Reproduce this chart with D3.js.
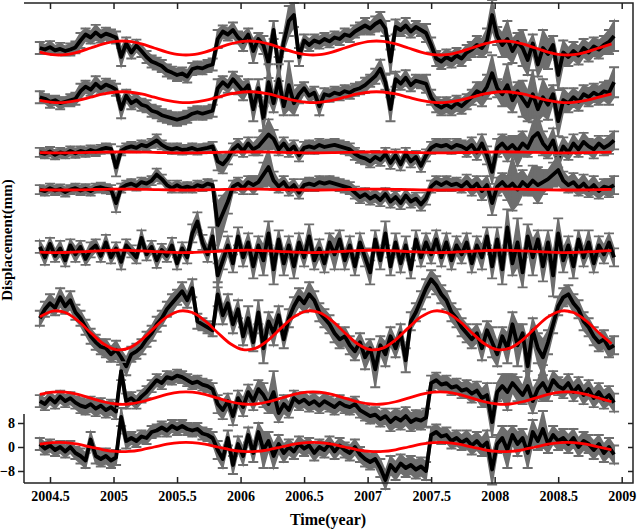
<!DOCTYPE html>
<html><head><meta charset="utf-8">
<script src="https://cdn.jsdelivr.net/npm/d3@7"></script>
<style>body{margin:0;background:#fff}svg{display:block}</style>
</head><body><svg id="c" width="638" height="531"></svg>
<script>
// ---------- DATA ----------
const xTicks = [2004.5, 2005, 2005.5, 2006, 2006.5, 2007, 2007.5, 2008, 2008.5, 2009];
const yTicks = [-8, 0, 8];
const tStart = 2004.42, tStep = 0.04;           // sampling grid of the observations
const redStart = 2004.42, redStep = 0.1;        // sampling grid of the fitted curves
// vertical offset (mm) of each station's series
const offsets = [133, 116.6, 98.2, 85.8, 65.2, 38.9, 16.3, 0];

const s1 = [0,-0.5,0.3,-0.8,-0.3,-1,-0.5,0.2,2.5,4.5, 3.5,5.2,3.8,4.8,4.2,3.5,-3,1.5,-1.5,0.8, -1,-3,-4.5,-5.2,-6,-7.5,-8.2,-9,-8.5,-9.5, -7,-6.5,-6.8,-6,-5.5,3,5.5,4.5,6,3.5, 2,4.5,-1,3,1,-5,6,-7,2,9, 11,-3,2.5,1,2.5,1.8,3,2.2,3.5,3, 4.5,4,5.5,6.5,7.5,6.5,8,9,6.5,-4.5, 7,6,7.5,5.5,7,6,5,1,-3.5,-4.5, -3,-4,-2.5,-3.5,-1.5,-0.5,1,0,2.5,11, 4,1,3,-1,2,0,-4,1.5,-5.5,0, -2,1,-9,-1.5,-3,-1,-2.5,0,-1.5,0.5, -0.5,1,2,4];
const e1 = [2,1.5,2,1.5,2,1.5,2,2,2.5,2, 2,2.5,2,2,2,2,3,2,2,2, 2,2,2,2,2,2,2,2,2,2, 2,2,2,2,2,3,2,2,2.5,2, 3,2,4,2,3,5,3,4,3,5, 4,3,2,2,2,2,2,2,2,2, 2,2,2,2,2.5,2,2.5,3,2.5,4, 2.5,2,2.5,2,2,2,3,2.5,2.5,2.5, 2.5,2.5,2.5,2.5,2.5,2.5,3,3,4,5, 3,4,6,4,3,6,5,3,4,6, 5,3,5,4,3,3,3,3,3,3, 3,3,4,5];

const s2 = [0,-0.5,-1.5,-1,-2,-1.5,-1,-0.5,2,3.5, 2.5,4.5,3,4.2,3.5,2.5,-4,0.5,-2,-1, -2.5,-3,-4.5,-5,-6,-6.5,-7,-7.5,-7,-6.5, -5.5,-5,-5.5,-5,-4.5,3,5,3.5,6,4, 2,4,-4,3,-7,5,-2,6,-3,4, -2,1,3,0.5,1.5,-3,1,0.5,1.5,1, 2,1.5,2.5,3,4,5.5,7,9.5,5,-4, 6,4.5,6.5,4,5.5,5,4.5,0,-2.5,-3.5, -2.5,-3.5,-2,-3,-1.5,0,2,1,3.5,8, 3,1,4,-1,2,-0.5,-3,1,-4,0, -2.5,1,-8,-1,-2,0,-1.5,1,0,1.5, 0.5,2,1.5,5];
const e2 = [2,1.5,2,1.5,2,1.5,2,2,2.5,2, 2,2.5,2,2,2,2,3,2,2,2, 2,2,2,2,2,2,2,2,2,2, 2,2,2,2,2,3,2,2,2.5,3, 3,2,4,3,4,6,3,5,3,8, 4,3,2,2,2,3,2,2,2,2, 2,2,2,2,2.5,2,2.5,3,2.5,4, 2.5,2,2.5,2,2,2,3,2.5,2.5,2.5, 2.5,2.5,2.5,2.5,2.5,2.5,3,4,4,6, 3,4,7,4,3,6,5,8,4,6, 5,3,5,4,3,3,3,3,3,3, 3,3,4,5];

const s3 = [0,-0.5,0.3,-0.8,0,-0.5,0.5,-0.3,0.5,0, 0.8,0.3,1,1.5,1.2,-5,0.5,1.5,2,1.5, 2.5,2,3,4,2.5,1.5,1,1.5,0.8,1, 1.5,0.8,1.2,1.5,2,-3,-4,-2,1,2.5, 0.5,3,1,2,4,6,4.5,1,3,0.5, 2,-1,1.5,2,1.5,2.5,1.8,2.2,2.5,2, 1.5,1,-0.5,-1.5,-2,-3,-1.5,-2.5,-0.5,-3.5, -1,-4,-0.5,-3,-1.5,-4.5,-1,1.5,2.5,2, 2.5,1.5,2.5,2,1,2.5,0,3,-1,-6.5, 1.5,3,1,2.5,0.5,3,1.5,5,6.5,3, 1,4,-2,2,0,3,1,3.5,2,1, 3,1.5,2.5,4];
const e3 = [1.5,1.5,1.5,1.5,1.5,1.5,1.5,1.5,1.5,1.5, 1.5,1.5,1.5,1.5,1.5,3,1.5,1.5,1.5,1.5, 1.5,1.5,1.5,2,1.5,1.5,1.5,1.5,1.5,1.5, 1.5,1.5,1.5,1.5,1.5,3,3,2,2,2, 2,2,2,3,3,5,3,2,2,2, 2,2,2,2,2,2,2,2,2,2, 2,2,2,2,2,2,2,2,2,2, 2,2,2,2,2,2,2,2,2,2, 2,2,2,2,2.5,2.5,2.5,3,3,4, 3,3,4,3,5,4,3,5,6,4, 3,4,3,3,2.5,3,2.5,3,2.5,3, 2.5,2.5,3,3];

const s4 = [0,-0.5,0.5,-0.3,0.2,-0.8,0,0.5,-0.3,0.3, -0.5,0.5,0.8,0.3,0,-4.5,0.5,1.5,2,1.2, 2.5,2,3,5,3.5,1.5,0.5,1.5,0.5,1, 0.5,1.5,1,2,1.5,-12,-8,-4,1,2, 0.5,2.5,1.5,2.5,5,7.5,3,1,2.5,0, 1.5,-1,1.5,2,1.5,2.5,2,2.5,2,1.5, 1,0.5,-1,-2.5,-1.5,-3,-2,-3.5,-1.5,-4, -2.5,-4.5,-2,-4,-3,-5,-3,1,2.5,1.5, 2.5,1.5,2,1,2.5,0.5,2,-0.5,1.5,-4.5, 1,2.5,0.5,2,0,2.5,1,3,1.5,2.5, 3.5,5,6.5,3,1.5,2.5,0.5,2,0,1.5, -0.5,1,0.5,1.5];
const e4 = [1.5,1.5,1.5,1.5,1.5,1.5,1.5,1.5,1.5,1.5, 1.5,1.5,1.5,1.5,1.5,3,1.5,1.5,1.5,1.5, 1.5,1.5,1.5,2,1.5,1.5,1.5,1.5,1.5,1.5, 1.5,1.5,1.5,1.5,1.5,8,6,4,2,2, 2,2,3,2,4,6,3,2,2,2, 2,2,2,2,2,2,2,2,2,2, 2,2,2,2,2,2,2,2,2,2, 2,2,2,2,2,2,2,2,2,2, 2,2,2,2,2.5,2.5,2.5,3,3,4, 3,3,4,9,5,4,3,5,6,4, 3,4,5,3,2.5,3,2.5,3,2.5,3, 2.5,2.5,3,3];

const s5 = [1.5,-2,2.5,-1.5,1,-3,2,-1,1.5,-2.5, 0.5,2,-1.5,3,-2,1,-3.5,2,0,-2, 4.5,-1,1.5,-3,0.5,-1.5,2,-4,1,-2, 6,10,3,-1,5,-8,-3,2,-4,5, -2,3,-5,2,-3,6,-6,4,-4,2, -5,3,-2,5,-3,1,-4,3,-1,4, -3,2,-5,3,-2,-7,4,-3,6,-5, 3,-4,2,-6,4,-2,3,-1,4,-2, 3,-3,2,-1,3,-4,2,-2,5,-5, 4,-6,8,-4,3,-7,5,-2,4,-5, 3,-8,6,-3,2,-5,4,-2,3,-4, 2,-1,3,-2];
const e5 = [2,2.5,2,2,2.5,2,2,2.5,2,2, 2.5,2,2,2.5,2,2,2.5,2,2,2, 2.5,2,2,2.5,2,2,2.5,2,2,2, 3,3,2.5,2.5,3,4,3,3,3,3, 3,3,4,3,5,4,5,3,4,3, 4,3,3,4,3,3,3,3,5,3, 3,3,3,3,3,4,3,3,4,3, 3,3,3,3,3,3,3,3,3,3, 3,3,3,3,3,3,3,4,3,4, 4,5,6,4,8,5,4,6,3,5, 4,7,5,4,3,4,3,3,4,3, 3,3,3,3];

const s6 = [4,7,9,7.5,11,8,10,6,4,1, -2,-4,-5.5,-6,-8,-6.5,-9,-12,-8,-7, -5.5,-3,-1,2,4,7,9,11,13,10, 14,3,2,1,0,12,5,9,2,7, -2,4,-4,6,-6,3,-1,5,-3,4, 8,11,9,12,10,6,4,2,-1,-3, -2,-5,-7,-4,-9,-6,-13,-5,-8,-2, -6,-1,-10,3,6,10,14,17,15,12, 10,6,4,1,-1,-3,-1,-6,0,-4, -8,-2,-6,2,-5,-1,-12,0,-6,-9, -4,2,8,11,12,9,7,3,1,-2, -4,-3,-6,-5];
const e6 = [2.5,2.5,3,2.5,3,2.5,3,2.5,2.5,2.5, 2.5,2.5,2.5,3,2.5,3,2.5,3,2.5,2.5, 2.5,2.5,2.5,2.5,2.5,2.5,3,2.5,3,2.5, 3,2.5,2,2,2,4,3,3,3,3, 3,4,3,4,5,3,4,3,3,3, 3,3,3,4,3,3,3,3,3,3, 3,3,3,3,4,3,6,3,4,3, 3,3,4,3,3,3,3,3,3,3, 3,3,3,3,3,3,3,4,3,5, 4,3,5,4,7,3,8,4,5,6, 4,3,3,3,3,3,3,3,3,3, 3,3,3,3];

const s7 = [-1,-2,0,-1.5,0.5,-1,0,-1.5,-2.5,-3, -2,-3.5,-2.5,-4,-3,-4.5,9,-1,0,-1.5, 0.5,2,4,6,5,7,6.5,7.5,7,6, 5,5.5,4.5,4,3,-2,-4,-1,-6,0, -3,2,-1,3,1,-2,2,-5,-2,-4, 0,-1.5,-0.5,-2,-1,-2.5,-1,-2,-3,-1.5, -2.5,-3,-2,-4,-5,-6,-5.5,-7,-6,-8, -6.5,-7.5,-6,-8,-7,-7.5,-6.5,5,6,4.5, 5,3.5,4,2.5,3,1.5,2.5,0,1,-8, 2,4,2,5,3,1,4,-1,3,5, 2,6,4,3,5,2,4,1,3,0, 2,-0.5,1,-1.5];
const e7 = [2,2,2,2,2,2,2,2,2.5,2.5, 2.5,2.5,2.5,2.5,2.5,2.5,3,2.5,2,2, 2,2,2,2,2,2,2,2,2,2, 2,2,2,2,2,3,3,2.5,3,2.5, 3,2.5,3,3,4,3,7,3,3,2.5, 2.5,2.5,2.5,2.5,2.5,2.5,2.5,2.5,2.5,2.5, 2.5,2.5,2.5,2.5,2.5,2.5,2.5,2.5,2.5,3, 3,3,3,3,3,3,3,2.5,2.5,2.5, 2.5,2.5,2.5,2.5,3,3,3,3,4,5, 3,4,6,3,4,3,5,4,3,6, 3,3,3,3,3,3,3,3,3,3, 3,3,3,3];

const s8 = [1,-0.5,0.5,-1,0,-1.5,0,-2,-3,-4.5, 2.5,-3,-4,-3,-4.5,-3.5,10,2,3,2, 3.5,3,5,5.5,6.5,5.5,7,6,7,6, 5.5,6,4.5,4,3,-1,-4,3,-6,1, -3,4,-2,5,-1,2,-3,1,-2,0, -1.5,1,-0.5,0.5,-2,0,-1,1,-1.5,0.5, -1,-2,0,-2.5,-4,-5,-4,-7,-11,-6, -8,-5.5,-7,-6,-7.5,-6.5,-8,4,5,3.5, 4,2,3,1.5,2.5,0.5,2,0,1.5,-7.5, 1,3,-1,4,1,3,-2,5,2,6, 1,4,2,3,1,3,0,2,1,-1, 1,-2,0,-2.5];
const e8 = [2,2,2,2,2,2,2,2,2.5,2.5, 2.5,2.5,2.5,2.5,2.5,2.5,3,2.5,2,2, 2,2,2,2,2,2,2,2,2,2, 2,2,2,2,2,3,3,2.5,3,2.5, 3,2.5,3,3,6,3,4,3,3,2.5, 2.5,2.5,2.5,2.5,2.5,2.5,2.5,2.5,2.5,2.5, 2.5,2.5,2.5,2.5,2.5,2.5,2.5,3,3,3, 3,3,3,3,3,3,3,2.5,2.5,2.5, 2.5,2.5,2.5,2.5,3,3,3,3,4,5, 3,4,6,3,4,3,5,4,3,6, 3,3,3,3,3,3,3,3,3,3, 3,3,3,3];

// fitted seasonal curves (mm, relative to each series' offset), sampled every 0.1 yr
const r1 = [-1.37,-2.22,-2.22,-1.37,0,1.37,2.22,2.22,1.37,0, -1.37,-2.22,-2.22,-1.37,0,1.37,2.22,2.22,1.37,0, -1.37,-2.22,-2.22,-1.37,0,1.37,2.22,2.22,1.37,0, -1.37,-2.22,-2.22,-1.37,0,1.37,2.22,2.22,1.37,0, -1.37,-2.22,-2.22,-1.37,0,1.37];
const r2 = [-1.08,-1.74,-1.74,-1.08,0,1.08,1.74,1.74,1.08,0, -1.08,-1.74,-1.74,-1.08,0,1.08,1.74,1.74,1.08,0, -1.08,-1.74,-1.74,-1.08,0,1.08,1.74,1.74,1.08,0, -1.08,-1.74,-1.74,-1.08,0,1.08,1.74,1.74,1.08,0, -1.08,-1.74,-1.74,-1.08,0,1.08];
const r3 = [-0.09,-0.14,-0.14,-0.09,0,0.09,0.14,0.14,0.09,0, -0.09,-0.14,-0.14,-0.09,0,0.09,0.14,0.14,0.09,0, -0.09,-0.14,-0.14,-0.09,0,0.09,0.14,0.14,0.09,0, -0.09,-0.14,-0.14,-0.09,0,0.09,0.14,0.14,0.09,0, -0.09,-0.14,-0.14,-0.09,0,0.09];
const r4 = [-0.09,-0.14,-0.14,-0.09,0,0.09,0.14,0.14,0.09,0, -0.09,-0.14,-0.14,-0.09,0,0.09,0.14,0.14,0.09,0, -0.09,-0.14,-0.14,-0.09,0,0.09,0.14,0.14,0.09,0, -0.09,-0.14,-0.14,-0.09,0,0.09,0.14,0.14,0.09,0, -0.09,-0.14,-0.14,-0.09,0,0.09];
const r5 = [-0.27,-0.39,-0.36,-0.19,0.05,0.27,0.39,0.36,0.19,-0.05, -0.27,-0.39,-0.36,-0.19,0.05,0.27,0.39,0.36,0.19,-0.05, -0.27,-0.39,-0.36,-0.19,0.05,0.27,0.39,0.36,0.19,-0.05, -0.27,-0.39,-0.36,-0.19,0.05,0.27,0.39,0.36,0.19,-0.05, -0.27,-0.39,-0.36,-0.19,0.05,0.27];
const r6 = [4.47,6.43,5.93,3.18,-0.8,-4.47,-6.43,-5.93,-3.18,0.8, 4.47,6.43,5.93,3.18,-0.8,-4.47,-6.43,-5.93,-3.18,0.8, 4.47,6.43,5.93,3.18,-0.8,-4.47,-6.43,-5.93,-3.18,0.8, 4.47,6.43,5.93,3.18,-0.8,-4.47,-6.43,-5.93,-3.18,0.8, 4.47,6.43,5.93,3.18,-0.8,-4.47];
const r7 = [1.22,1.97,1.97,1.22,0,-1.22,-1.97,-1.97,-1.22,0, 1.22,1.97,1.97,1.22,0,-1.22,-1.97,-1.97,-1.22,0, 1.22,1.97,1.97,1.22,0,-1.22,-1.97,-1.97,-1.22,0, 1.22,1.97,1.97,1.22,0,-1.22,-1.97,-1.97,-1.22,0, 1.22,1.97,1.97,1.22,0,-1.22];
const r8 = [0.92,1.49,1.49,0.92,0,-0.92,-1.49,-1.49,-0.92,0, 0.92,1.49,1.49,0.92,0,-0.92,-1.49,-1.49,-0.92,0, 0.92,1.49,1.49,0.92,0,-0.92,-1.49,-1.49,-0.92,0, 0.92,1.49,1.49,0.92,0,-0.92,-1.49,-1.49,-0.92,0, 0.92,1.49,1.49,0.92,0,-0.92];

const seriesVals = [s1, s2, s3, s4, s5, s6, s7, s8];
const seriesErr  = [e1, e2, e3, e4, e5, e6, e7, e8];
const fitVals    = [r1, r2, r3, r4, r5, r6, r7, r8];

// ---------- CHART ----------
(function () {
const svg = d3.select("#c");
const pL = 24, pR = 633, pT = 3, pB = 483;
const x = d3.scaleLinear().domain([2004.5, 2009]).range([50, 621.7]);
const y = d3.scaleLinear().domain([-12, 148]).range([pB, pT]);
const font = "'Liberation Serif','Times New Roman',serif";
const capW = 5;
const grey = "#6e6e6e";

const plot = svg.append("g");
seriesVals.forEach((vals, s) => {
  const off = offsets[s];
  const errs = seriesErr[s];
  const pts = vals.map((v, i) => ({t: tStart + i * tStep, v: v + off, e: errs[i] == null ? 2 : errs[i]}));
  const g = plot.append("g");
  // error envelope (dense daily error bars in the original merge into a band)
  g.append("path").datum(pts).attr("fill", grey).attr("stroke", grey).attr("stroke-width", 1.5)
    .attr("d", d3.area().x(d => x(d.t)).y0(d => y(d.v - d.e)).y1(d => y(d.v + d.e)));
  const path = d3.path();
  pts.forEach(p => {
    const cx = x(p.t), y0 = y(p.v - p.e), y1 = y(p.v + p.e);
    path.moveTo(cx, y0); path.lineTo(cx, y1);
    path.moveTo(cx - capW, y0); path.lineTo(cx + capW, y0);
    path.moveTo(cx - capW, y1); path.lineTo(cx + capW, y1);
  });
  g.append("path").attr("d", path.toString())
    .attr("stroke", grey).attr("stroke-width", 1.9).attr("fill", "none");
  g.append("path").datum(pts)
    .attr("fill", "none").attr("stroke", "#000").attr("stroke-width", 3.8).attr("stroke-linejoin", "round")
    .attr("d", d3.line().x(d => x(d.t)).y(d => y(d.v)));
});
fitVals.forEach((vals, s) => {
  const off = offsets[s];
  const pts = vals.map((v, k) => ({t: redStart + k * redStep, v: v + off}));
  plot.append("path").datum(pts)
    .attr("fill", "none").attr("stroke", "#ff0000").attr("stroke-width", 2.8)
    .attr("d", d3.line().curve(d3.curveCatmullRom).x(d => x(d.t)).y(d => y(d.v)));
});

// frame
const axCol = "#222";
svg.append("path").attr("fill", "none").attr("stroke", axCol).attr("stroke-width", 1.5)
  .attr("d", `M${pL},${pT}H${pR}V${pB}H${pL}`);
svg.append("line").attr("x1", pL).attr("x2", pL).attr("y1", y(11)).attr("y2", pB)
  .attr("stroke", axCol).attr("stroke-width", 1.5);

// axes
const xb = svg.append("g").attr("transform", `translate(0,${pB})`)
  .call(d3.axisBottom(x).tickValues(xTicks).tickFormat(d => String(d)).tickSizeInner(-6).tickSizeOuter(0).tickPadding(8));
const xt = svg.append("g").attr("transform", `translate(0,${pT})`)
  .call(d3.axisTop(x).tickValues(xTicks).tickFormat("").tickSizeInner(-6).tickSizeOuter(0));
const yl = svg.append("g").attr("transform", `translate(${pL},0)`)
  .call(d3.axisLeft(y).tickValues(yTicks).tickSizeInner(6).tickSizeOuter(0).tickPadding(3));
const yr = svg.append("g").attr("transform", `translate(${pR},0)`)
  .call(d3.axisRight(y).tickValues(yTicks).tickFormat("").tickSizeInner(-5).tickSizeOuter(0));
[xb, xt, yl, yr].forEach(g => {
  g.select(".domain").remove();
  g.selectAll(".tick line").attr("stroke", axCol).attr("stroke-width", 1.5);
  g.selectAll("text").attr("font-family", font).attr("font-weight", "bold").attr("font-size", 14).attr("fill", "#000");
});

svg.append("text").attr("x", 328).attr("y", 525).attr("text-anchor", "middle")
  .attr("font-family", font).attr("font-weight", "bold").attr("font-size", 16).text("Time(year)");
svg.append("text").attr("transform", "translate(12,240) rotate(-90)").attr("text-anchor", "middle")
  .attr("font-family", font).attr("font-weight", "bold").attr("font-size", 15).text("Displacement(mm)");
})();
</script></body></html>
